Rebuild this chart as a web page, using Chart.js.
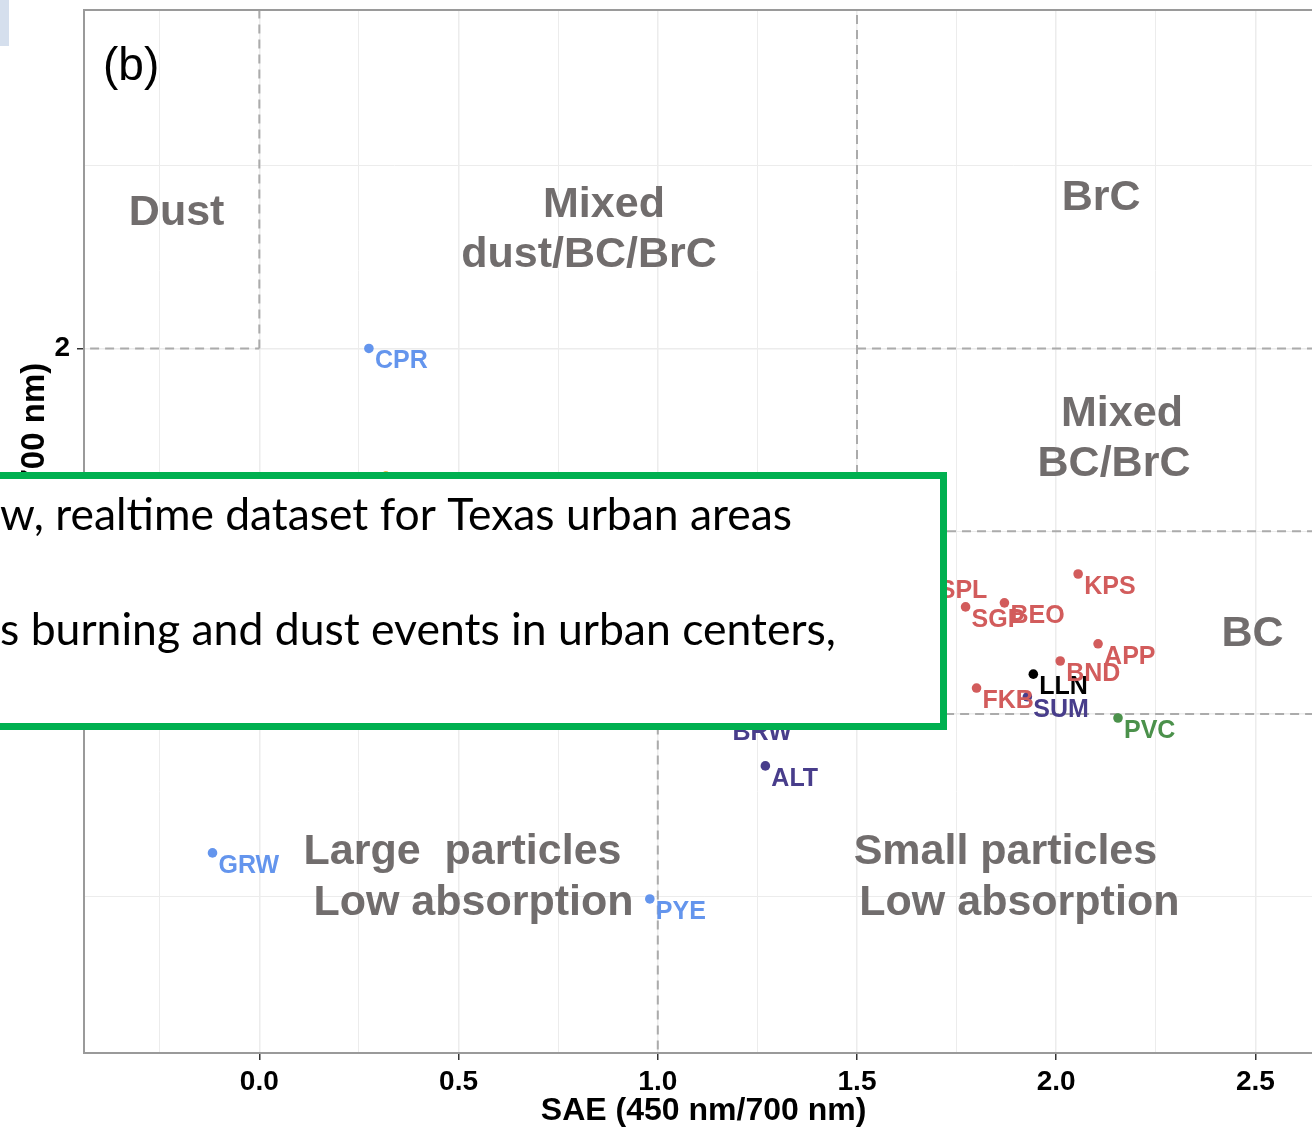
<!DOCTYPE html>
<html lang="en">
<head>
    <meta charset="UTF-8">
    <title>SAE vs AAE</title>
    <script src="https://cdn.jsdelivr.net/npm/chart.js"></script>
    <style>
        html, body { margin: 0; padding: 0; background: #fff; overflow: hidden; }
        #wrap { position: relative; width: 1328px; height: 1131px; }
    </style>
</head>
<body>
    <div id="wrap"><canvas id="chart"></canvas></div>

    <script>
        // Stations (SAE on x, AAE on y)
        const stations = ['', 'CPR', 'GRW', 'PYE', 'ALT', 'BRW', 'SUM', 'LLN', 'FKB', 'BND', 'APP', 'KPS', 'SPL', 'SGP', 'BEO', 'PVC'];
        const saeValues = [0.3175, 0.275, -0.1175, 0.98, 1.27, 1.1725, 1.9275, 1.9425, 1.80, 2.01, 2.105, 2.055, 1.69, 1.7725, 1.87, 2.155];
        const aaeValues = [1.651, 2.00, 0.62, 0.494, 0.858, 0.984, 1.047, 1.109, 1.071, 1.145, 1.192, 1.383, 1.372, 1.293, 1.304, 0.989];
        const stationGroup = ['orange', 'blue', 'blue', 'blue', 'purple', 'purple', 'purple', 'black', 'red', 'red', 'red', 'red', 'red', 'red', 'red', 'green'];

        // Classification boundaries (SAE, AAE) pairs
        const boundaries = [
            [[0, 2], [0, 3]],
            [[-0.5, 2], [0, 2]],
            [[1.5, 1], [1.5, 3]],
            [[1.5, 2], [3, 2]],
            [[1.5, 1.5], [3, 1.5]],
            [[-0.5, 1], [3, 1]],
            [[1, 0], [1, 1]]
        ];

        // Region names and where they sit (data units)
        const regionText = ['Dust', 'Mixed', 'dust/BC/BrC', 'BrC', 'Mixed', 'BC/BrC', 'BC', 'Large  particles', 'Low absorption', 'Small particles', 'Low absorption'];
        const regionX = [-0.2075, 0.865, 0.8275, 2.1125, 2.165, 2.145, 2.4925, 0.51, 0.5375, 1.8725, 1.9075];
        const regionY = [2.379, 2.40, 2.264, 2.42, 1.829, 1.692, 1.227, 0.631, 0.491, 0.631, 0.491];

        // Axis ticks
        const xTicks = [-0.25, 0, 0.25, 0.5, 0.75, 1, 1.25, 1.5, 1.75, 2, 2.25, 2.5];
        const xLabelTicks = [0, 0.5, 1, 1.5, 2, 2.5];
        const yTicks = [0.5, 1, 1.5, 2, 2.5];
        const yLabelTicks = [1, 2];

        const panelTag = '(b)';
        const noteLines = ['w, realtime dataset for Texas urban areas', 's burning and dust events in urban centers,'];

        const groupColors = {
            blue: '#6495ed', red: '#d25c5c', purple: '#483d8b',
            black: '#000000', green: '#4b914b', orange: '#e69f00'
        };

        const stationDataset = {
            data: saeValues.map((v, i) => ({ x: v, y: aaeValues[i] })),
            backgroundColor: stationGroup.map(g => groupColors[g]),
            pointRadius: 4.8,
            pointBorderWidth: 0,
            order: 0
        };

        const boundaryDatasets = boundaries.map(seg => ({
            data: seg.map(p => ({ x: p[0], y: p[1] })),
            showLine: true,
            pointRadius: 0,
            borderColor: '#ababab',
            borderWidth: 2,
            borderDash: [9, 6],
            order: 1
        }));

        // Labels, region names, frame top and the overlay box
        const overlayPlugin = {
            id: 'overlay',
            afterDatasetsDraw(chart) {
                const { ctx, chartArea, scales: { x, y } } = chart;
                ctx.save();

                ctx.strokeStyle = '#9a9a9a';
                ctx.lineWidth = 2;
                ctx.beginPath();
                ctx.moveTo(chartArea.left, chartArea.top);
                ctx.lineTo(chartArea.right, chartArea.top);
                ctx.lineTo(chartArea.right, chartArea.bottom);
                ctx.stroke();

                ctx.font = 'bold 25px "Liberation Sans", Arial, sans-serif';
                ctx.textAlign = 'left';
                ctx.textBaseline = 'middle';
                chart.getDatasetMeta(0).data.forEach((pt, i) => {
                    if (!stations[i]) return;
                    ctx.fillStyle = groupColors[stationGroup[i]];
                    ctx.fillText(stations[i], pt.x + 6, pt.y + 13);
                });

                ctx.font = 'bold 43px "Liberation Sans", Arial, sans-serif';
                ctx.textAlign = 'center';
                ctx.fillStyle = '#716d6d';
                regionText.forEach((t, i) => {
                    ctx.fillText(t, x.getPixelForValue(regionX[i]), y.getPixelForValue(regionY[i]) + 3);
                });

                ctx.font = '46px "Liberation Sans", Arial, sans-serif';
                ctx.textAlign = 'left';
                ctx.fillStyle = '#000';
                ctx.fillText(panelTag, chartArea.left + 19, chartArea.top + 57);

                ctx.restore();
            },
            afterDraw(chart) {
                const { ctx } = chart;
                ctx.save();

                ctx.fillStyle = '#d5dfed';
                ctx.fillRect(0, 0, 9, 46);

                ctx.fillStyle = '#fff';
                ctx.fillRect(-10, 472, 957, 258);
                ctx.strokeStyle = '#00b050';
                ctx.lineWidth = 7;
                ctx.strokeRect(-10, 475.5, 953.5, 251);

                ctx.fillStyle = '#000';
                ctx.font = '44.5px Lato, "Open Sans", sans-serif';
                ctx.textAlign = 'left';
                ctx.textBaseline = 'alphabetic';
                ctx.fillText(noteLines[0], 0, 530, 792);
                ctx.fillText(noteLines[1], 0, 645, 838);

                ctx.restore();
            }
        };

        new Chart(document.getElementById('chart'), {
            type: 'scatter',
            data: { datasets: [stationDataset, ...boundaryDatasets] },
            options: {
                responsive: true,
                maintainAspectRatio: false,
                animation: false,
                layout: { padding: { top: 10, right: 0, bottom: 0, left: 0 } },
                plugins: {
                    legend: { display: false },
                    tooltip: { enabled: false }
                },
                scales: {
                    x: {
                        type: 'linear',
                        min: -0.44,
                        max: 2.67,
                        afterBuildTicks: scale => { scale.ticks = xTicks.map(v => ({ value: v })); },
                        afterFit: scale => {
                            scale.height = 78;
                            scale.paddingLeft = 0;
                            scale.paddingRight = 0;
                        },
                        ticks: {
                            autoSkip: false,
                            maxRotation: 0,
                            padding: 5,
                            color: '#000',
                            font: { family: '"Liberation Sans", Arial, sans-serif', size: 28, weight: 'bold' },
                            callback: v => xLabelTicks.includes(v) ? v.toFixed(1) : ''
                        },
                        grid: {
                            color: '#ececec',
                            lineWidth: ctx => xLabelTicks.includes(ctx.tick && ctx.tick.value) ? 1.5 : 1,
                            tickLength: 7,
                            tickWidth: 1.5,
                            tickColor: ctx => xLabelTicks.includes(ctx.tick && ctx.tick.value) ? '#333' : 'rgba(0,0,0,0)'
                        },
                        border: { color: '#9a9a9a', width: 2 },
                        title: {
                            display: true,
                            text: 'SAE (450 nm/700 nm)',
                            color: '#000',
                            padding: { top: 0, bottom: 1 },
                            font: { family: '"Liberation Sans", Arial, sans-serif', size: 32, weight: 'bold' }
                        }
                    },
                    y: {
                        type: 'linear',
                        min: 0.0725,
                        max: 2.926,
                        afterBuildTicks: scale => { scale.ticks = yTicks.map(v => ({ value: v })); },
                        afterFit: scale => {
                            scale.width = 84;
                            scale.paddingTop = 0;
                            scale.paddingBottom = 0;
                        },
                        ticks: {
                            padding: 7,
                            color: '#000',
                            font: { family: '"Liberation Sans", Arial, sans-serif', size: 28, weight: 'bold' },
                            callback: v => yLabelTicks.includes(v) ? String(v) : ''
                        },
                        grid: {
                            color: '#ececec',
                            lineWidth: ctx => yLabelTicks.includes(ctx.tick && ctx.tick.value) ? 1.5 : 1,
                            tickLength: 7,
                            tickWidth: 1.5,
                            tickColor: ctx => yLabelTicks.includes(ctx.tick && ctx.tick.value) ? '#333' : 'rgba(0,0,0,0)'
                        },
                        border: { color: '#9a9a9a', width: 2 },
                        title: {
                            display: true,
                            text: 'AAE (450 nm/700 nm)',
                            color: '#000',
                            padding: { top: 15, bottom: 0 },
                            font: { family: '"Liberation Sans", Arial, sans-serif', size: 33, weight: 'bold' }
                        }
                    }
                }
            },
            plugins: [overlayPlugin]
        });
    </script>
</body>
</html>
